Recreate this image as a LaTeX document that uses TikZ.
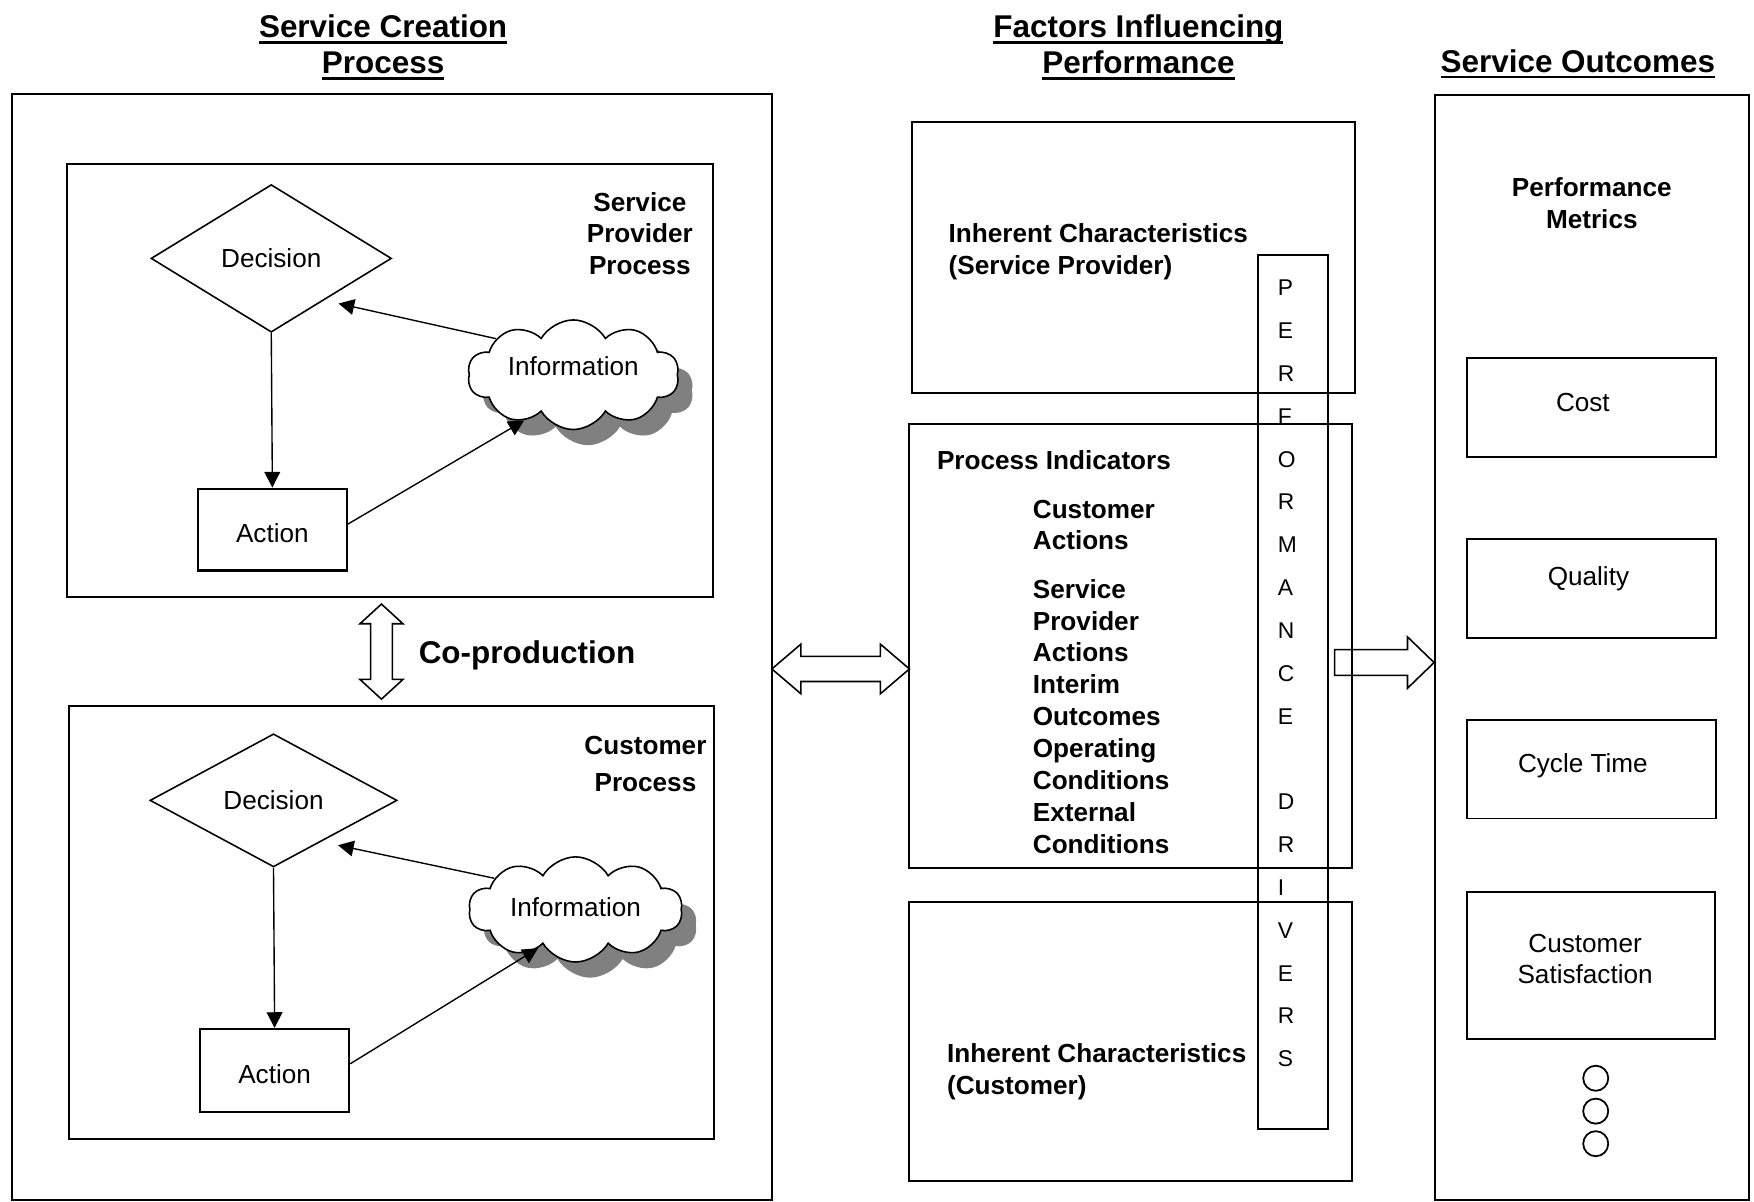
\documentclass[tikz,border=0pt]{standalone}
\usepackage{fontspec}
\setmainfont{Liberation Sans}
\usetikzlibrary{shapes.geometric,shapes.symbols,shapes.arrows,arrows.meta,fit,calc,shadows}

% underlined heading line
\newcommand{\ulbar}[1]{\leavevmode\setbox0=\hbox{#1}\rlap{\copy0}\rule[-3pt]{\wd0}{1.2pt}}

\tikzset{
  frame/.style={draw, rectangle, line width=1pt, inner sep=0pt},
  txt/.style={inner sep=0pt, font=\fontsize{13.3}{16}\selectfont},
  lbl/.style={inner sep=0pt, font=\bfseries\fontsize{13.3}{16}\selectfont},
  heading/.style={inner sep=0pt, align=center, font=\bfseries\fontsize{16}{18.3}\selectfont},
  decbox/.style={draw, diamond, line width=0.8pt, inner sep=0pt,
    font=\fontsize{13.3}{16}\selectfont},
  actbox/.style={draw, rectangle, line width=1.2pt, inner sep=0pt,
    minimum width=2.66cm, font=\fontsize{13.3}{16}\selectfont},
  infocloud/.style={draw, cloud, cloud puffs=10, cloud puff arc=120,
    cloud ignores aspect, fill=white, line width=0.8pt, inner sep=0pt,
    font=\fontsize{13.3}{16}\selectfont,
    drop shadow={shadow xshift=0.26cm, shadow yshift=-0.28cm, fill=black!50, opacity=1}},
  flow/.style={-{Triangle[length=8pt,width=8pt]}, line width=0.7pt},
  dot/.style={draw, circle, line width=0.9pt, minimum size=0.448cm, inner sep=0pt},
  dblarrow/.style={draw, double arrow, line width=0.8pt, inner sep=0pt,
    text height=0pt, text depth=0pt},
  onearrow/.style={draw, single arrow, line width=0.8pt, inner sep=0pt,
    text height=0pt, text depth=0pt}
}

\begin{document}
\begin{tikzpicture}[x=0.02cm, y=-0.02cm]
\useasboundingbox (0,0) rectangle (1568,1074);

% ---------- column headings (multi-line nodes sit on their last baseline) ----------
\node[heading, anchor=base] (hcreate) at (342.5,66) {\ulbar{Service Creation}\\\ulbar{Process}};
\node[heading, anchor=base] (hfactor) at (1017.7,66) {\ulbar{Factors Influencing}\\\ulbar{Performance}};
\node[heading, anchor=base] (houtcome) at (1410.5,64.5) {\ulbar{Service Outcomes}};

% ---------- service creation process ----------
\node[frame, fit={(11,84) (690,1072.6)}] (creation) {};
\node[frame, fit={(60,147) (637,534)}] (provider) {};
\node[frame, fit={(62,631) (638,1018)}] (customer) {};

\node[lbl, anchor=base, align=center, font=\bfseries\fontsize{13.3}{15.9}\selectfont]
  (providerlbl) at (572,245) {Service\\Provider\\Process};
\node[lbl, anchor=base, align=center, font=\bfseries\fontsize{13.3}{19.1}\selectfont]
  (customerlbl) at (577,707.7) {Customer\\Process};

% provider loop
\node[decbox, minimum width=4.3cm, minimum height=2.64cm] (dec1) at (242.5,231) {Decision};
\node[actbox, minimum height=1.46cm] (act1) at (243.5,473.5) {\rule{0pt}{13.5pt}Action};
\node[infocloud, minimum width=3.78cm, minimum height=1.96cm] (info1) at (512.5,335) {\raisebox{9pt}{Information}};
\draw[flow] (dec1.south) -- (act1.north);
\draw[flow] (info1.155) -- ($(dec1.south east)+(6,7)$);
\draw[flow] ($(act1.east)+(0,-5)$) -- (info1.223);

% customer loop
\node[decbox, minimum width=4.42cm, minimum height=2.38cm] (dec2) at (244.5,715.5) {Decision};
\node[actbox, minimum height=1.48cm] (act2) at (245.5,957) {\rule{0pt}{13.5pt}Action};
\node[infocloud, minimum width=3.82cm, minimum height=1.88cm] (info2) at (514.5,813) {\raisebox{2pt}{Information}};
\draw[flow] (dec2.south) -- (act2.north);
\draw[flow] (info2.159) -- ($(dec2.south east)+(2,10)$);
\draw[flow] ($(act2.east)+(0,-6)$) -- (info2.226);

% co-production
\node[dblarrow, rotate=90, minimum height=1.7cm, minimum width=0.74cm,
  inner ysep=0.18cm, double arrow head extend=0.19cm, double arrow tip angle=95]
  (coprod) at (341,582.5) {};
\node[anchor=base west, inner sep=0pt, font=\bfseries\fontsize{16}{19}\selectfont]
  (coprodlbl) at (374,592.8) {Co-production};

% link to the factors column
\node[dblarrow, minimum height=2.46cm, minimum width=0.86cm,
  inner ysep=0.21cm, double arrow head extend=0.22cm, double arrow tip angle=81]
  (link) at (751.5,598) {};

% ---------- factors influencing performance ----------
\node[frame, fit={(815,109) (1211,351.7)}] (inhsp) {};
\node[frame, fit={(812.8,379) (1209,776)}] (procind) {};
\node[frame, fit={(812.7,806) (1209,1055.5)}] (inhcu) {};
\node[frame, fit={(1124.7,228) (1186.8,1009.3)}] (drivers) {};

\node[lbl, anchor=base west, align=left, font=\bfseries\fontsize{13.3}{16.7}\selectfont]
  (inhsplbl) at (847.7,245.7) {Inherent Characteristics\\(Service Provider)};
\node[lbl, anchor=base west] (procindlbl) at (837.3,420) {Process Indicators};
\node[lbl, anchor=base west, align=left, font=\bfseries\fontsize{13.3}{16}\selectfont]
  (custact) at (923,491.3) {Customer\\Actions};
\node[lbl, anchor=base west, align=left, font=\bfseries\fontsize{13.3}{16.26}\selectfont]
  (otherind) at (923,763.2) {Service\\Provider\\Actions\\Interim\\Outcomes\\Operating\\Conditions\\External\\Conditions};
\node[lbl, anchor=base west, align=left, font=\bfseries\fontsize{13.3}{16.5}\selectfont]
  (inhculbl) at (846.3,978.4) {Inherent Characteristics\\(Customer)};

\node[anchor=base west, align=left, inner sep=0pt, font=\fontsize{11.6}{21.8}\selectfont]
  (driverslbl) at (1142,953.7) {P\\E\\R\\F\\O\\R\\M\\A\\N\\C\\E\\~\\D\\R\\I\\V\\E\\R\\S};

% link to the outcomes column
\node[onearrow, anchor=tip, minimum height=1.78cm, minimum width=0.89cm,
  inner ysep=0.216cm, single arrow head extend=0.229cm, single arrow tip angle=88]
  (feed) at (1283,592.3) {};

% ---------- service outcomes ----------
\node[frame, fit={(1283,85) (1563.6,1072.6)}] (outcomes) {};
\node[lbl, anchor=base, align=center, font=\bfseries\fontsize{13.3}{16.2}\selectfont]
  (metricslbl) at (1423,204.3) {Performance\\Metrics};

\node[frame, fit={(1311.7,320) (1534,408.3)}] (cost) {};
\node[frame, fit={(1311.7,481.5) (1534,570)}] (quality) {};
\node[frame, fit={(1311.7,643.3) (1534,731.7)}] (cycle) {};
\node[frame, fit={(1311.7,797.4) (1533,928.8)}] (satisf) {};

\node[txt, anchor=base] (costlbl) at (1415,367.6) {Cost};
\node[txt, anchor=base] (qualitylbl) at (1420,523.2) {Quality};
\node[txt, anchor=base] (cyclelbl) at (1415,690.6) {Cycle Time};
\node[txt, anchor=base, align=center, font=\fontsize{13.3}{15.9}\selectfont]
  (satisflbl) at (1417,879) {Customer\\Satisfaction};

\node[dot] (more1) at (1426.5,963.9) {};
\node[dot] (more2) at (1426.5,993.3) {};
\node[dot] (more3) at (1426.5,1022.4) {};
\end{tikzpicture}
\end{document}
